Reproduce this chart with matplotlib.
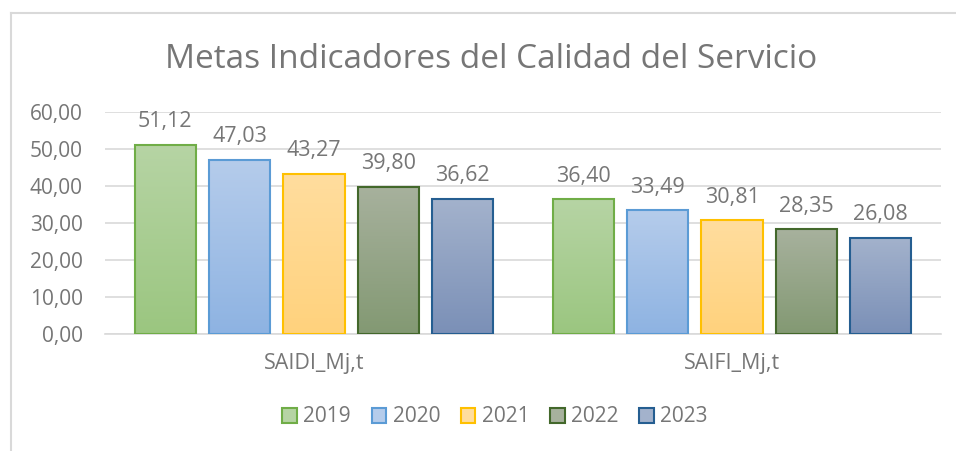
import numpy as np
import matplotlib.pyplot as plt
from matplotlib.colors import LinearSegmentedColormap
from matplotlib.patches import Patch
from matplotlib.lines import Line2D

plt.rcParams['font.family'] = ['Open Sans', 'DejaVu Sans']

categories = ['SAIDI_Mj,t', 'SAIFI_Mj,t']
years = ['2019', '2020', '2021', '2022', '2023']
values = {
    '2019': [51.12, 36.40],
    '2020': [47.03, 33.49],
    '2021': [43.27, 30.81],
    '2022': [39.80, 28.35],
    '2023': [36.62, 26.08],
}
# top, bottom gradient colours and edge colour
fill_top = ['#b6d4a4', '#b5cceb', '#ffdd9e', '#a7b19d', '#a3b2cc']
fill_bot = ['#9bc680', '#8eb3e2', '#ffd27d', '#839973', '#7b90b7']
edges = ['#70ad47', '#5b9bd5', '#ffc000', '#43682b', '#255e91']

gray = '#767676'
fig = plt.figure(figsize=(9.56, 4.51), dpi=100)
ax = fig.add_axes([105 / 956, 1 - 334 / 451, 836 / 956, 222 / 451])

ax.set_xlim(-0.5, 1.5)
ax.set_ylim(0, 60)
ax.set_yticks(np.arange(0, 61, 10))
ax.set_yticklabels([f'{v:.2f}'.replace('.', ',') for v in np.arange(0, 61, 10)])
ax.yaxis.grid(True, color='#d9d9d9', lw=1.2)
ax.set_axisbelow(True)
for s in ['top', 'right', 'left']:
    ax.spines[s].set_visible(False)
ax.spines['bottom'].set_color('#d9d9d9')
ax.spines['bottom'].set_linewidth(1.2)
ax.tick_params(axis='y', length=0, labelsize=15, labelcolor=gray, pad=16)
ax.tick_params(axis='x', length=0, labelsize=15.5, labelcolor=gray, pad=14)
ax.set_xticks(range(len(categories)))
ax.set_xticklabels(categories)

width = 0.146
step = 0.178
x = np.arange(len(categories))
for i, yr in enumerate(years):
    cmap = LinearSegmentedColormap.from_list(yr, [fill_bot[i], fill_top[i]])
    grad = np.linspace(0, 1, 100).reshape(-1, 1)
    for j, v in enumerate(values[yr]):
        xc = x[j] + (i - 2) * step
        ax.imshow(grad, cmap=cmap, origin='lower', aspect='auto',
                  extent=[xc - width / 2, xc + width / 2, 0, v], zorder=2)
        ax.bar(xc, v, width=width, facecolor='none', edgecolor=edges[i],
               linewidth=1.5, zorder=3)
        ax.annotate(f'{v:.2f}'.replace('.', ','), (xc, v), xytext=(0, 9),
                    textcoords='offset points', ha='center', va='bottom',
                    fontsize=15.5, color=gray)
ax.set_xlim(-0.5, 1.5)
ax.set_ylim(0, 60)

fig.text(491 / 956, 1 - 59 / 451, 'Metas Indicadores del Calidad del Servicio',
         ha='center', va='center', fontsize=24, color=gray)

handles = [Patch(facecolor=(fill_top[i]), edgecolor=edges[i], linewidth=1.5)
           for i in range(len(years))]
fig.legend(handles, years, loc='center', bbox_to_anchor=(495 / 956, 1 - 417 / 451),
           ncol=5, frameon=False, fontsize=15, labelcolor=gray,
           handlelength=0.7, handleheight=0.7, handletextpad=0.3, columnspacing=1.0)

# chart frame
fig.add_artist(Line2D([11 / 956, 11 / 956], [0, 1 - 13 / 451], color='#d9d9d9',
                      lw=1.5, transform=fig.transFigure))
fig.add_artist(Line2D([11 / 956, 1], [1 - 13 / 451, 1 - 13 / 451], color='#d9d9d9',
                      lw=1.5, transform=fig.transFigure))

fig.savefig('out.png', dpi=100)
